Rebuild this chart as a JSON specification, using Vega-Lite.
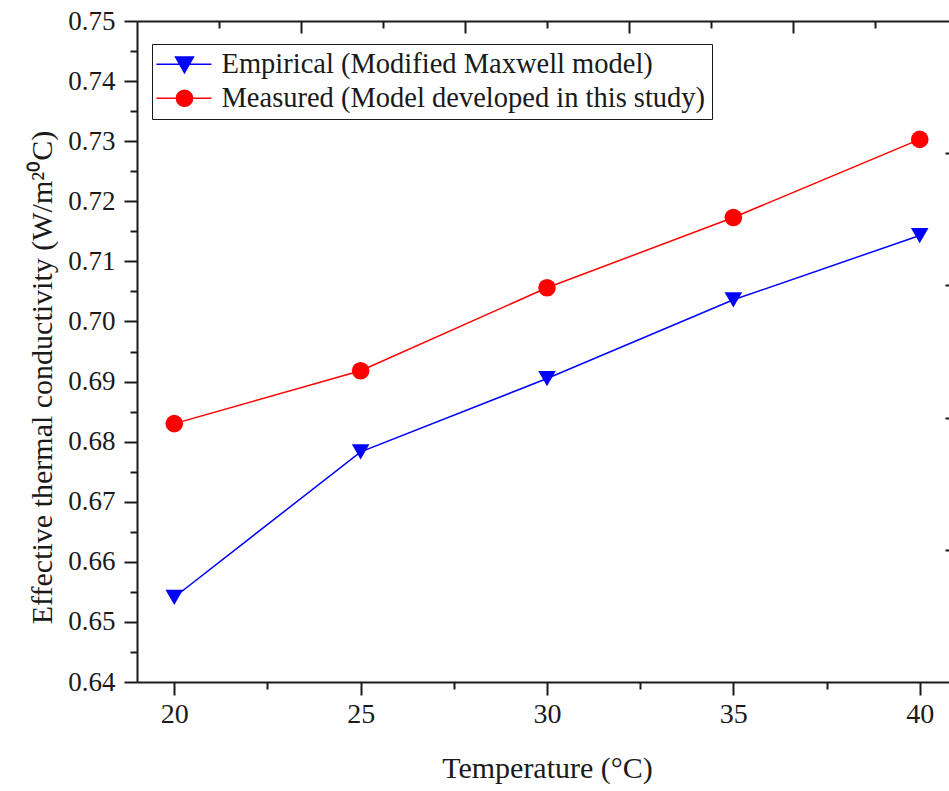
{
  "$schema": "https://vega.github.io/schema/vega-lite/v6.json",
  "width": 812,
  "height": 661,
  "autosize": {"type": "none"},
  "padding": {"left": 137, "top": 21, "right": 0, "bottom": 109},
  "background": "white",
  "config": {
    "view": {"stroke": null},
    "font": "Liberation Serif",
    "style": {"guide-label": {"font": "Liberation Serif"}, "guide-title": {"font": "Liberation Serif"}},
    "axis": {
      "grid": false,
      "domainColor": "#1a1a1a",
      "domainWidth": 2,
      "tickColor": "#1a1a1a",
      "tickWidth": 2,
      "labelFont": "Liberation Serif",
      "titleFont": "Liberation Serif",
      "labelColor": "#1a1a1a",
      "titleColor": "#1a1a1a",
      "titleFontWeight": "normal"
    },
    "legend": {
      "title": null, "orient": "none", "legendX": 15, "legendY": 23, "direction": "vertical",
      "padding": 6, "strokeColor": "#1a1a1a", "labelFont": "Liberation Serif", "labelFontSize": 28.5,
      "labelColor": "#1a1a1a", "labelLimit": 0, "labelOffset": 35, "rowPadding": 5,
      "symbolSize": 289, "symbolOpacity": 1, "symbolStrokeWidth": 1.5
    }
  },
  "data": {
    "values": [
      {"T": 20, "k": 0.6541, "series": "Empirical (Modified Maxwell model)"},
      {"T": 25, "k": 0.6783, "series": "Empirical (Modified Maxwell model)"},
      {"T": 30, "k": 0.6905, "series": "Empirical (Modified Maxwell model)"},
      {"T": 35, "k": 0.7036, "series": "Empirical (Modified Maxwell model)"},
      {"T": 40, "k": 0.7143, "series": "Empirical (Modified Maxwell model)"},
      {"T": 20, "k": 0.6830, "series": "Measured (Model developed in this study)"},
      {"T": 25, "k": 0.6918, "series": "Measured (Model developed in this study)"},
      {"T": 30, "k": 0.7056, "series": "Measured (Model developed in this study)"},
      {"T": 35, "k": 0.7173, "series": "Measured (Model developed in this study)"},
      {"T": 40, "k": 0.7303, "series": "Measured (Model developed in this study)"}
    ]
  },
  "layer": [
    {
      "mark": {"type": "line", "strokeWidth": 1.5},
      "encoding": {
        "x": {
          "field": "T", "type": "quantitative",
          "scale": {"domain": [19, 41], "range": [0, 820], "nice": false, "zero": false},
          "axis": {
            "orient": "bottom", "values": [20, 25, 30, 35, 40], "tickSize": 13,
            "labelFont": "Liberation Serif", "labelFontSize": 28, "labelPadding": 5, "title": "Temperature (°C)",
            "titleFont": "Liberation Serif", "titleFontSize": 30, "titlePadding": 25
          }
        },
        "y": {
          "field": "k", "type": "quantitative",
          "scale": {"domain": [0.64, 0.75], "nice": false, "zero": false},
          "axis": {
            "orient": "left",
            "values": [0.64, 0.65, 0.66, 0.67, 0.68, 0.69, 0.70, 0.71, 0.72, 0.73, 0.74, 0.75],
            "format": ".2f", "tickSize": 13, "labelFont": "Liberation Serif", "labelFontSize": 27, "labelPadding": 9,
            "title": "Effective thermal conductivity (W/m²⁰C)", "titleFont": "Liberation Serif", "titleFontSize": 30, "titlePadding": 10, "titleY": 356
          }
        },
        "color": {
          "field": "series", "type": "nominal",
          "scale": {"domain": ["Empirical (Modified Maxwell model)", "Measured (Model developed in this study)"], "range": ["#0000ff", "#ff0000"]},
          "legend": null
        }
      }
    },
    {
      "mark": {"type": "point", "filled": true, "opacity": 1},
      "encoding": {
        "x": {"field": "T", "type": "quantitative", "axis": null},
        "y": {"field": "k", "type": "quantitative", "axis": null},
        "color": {"field": "series", "type": "nominal", "legend": null},
        "shape": {
          "field": "series", "type": "nominal",
          "scale": {"domain": ["Empirical (Modified Maxwell model)", "Measured (Model developed in this study)"], "range": ["triangle-down", "circle"]},
          "legend": null
        },
        "size": {"value": 310}
      }
    },
    {
      "mark": {"type": "point", "filled": true, "opacity": 0, "strokeWidth": 1.5},
      "encoding": {
        "x": {"field": "T", "type": "quantitative", "axis": null},
        "y": {"field": "k", "type": "quantitative", "axis": null},
        "fill": {
          "field": "series", "type": "nominal",
          "scale": {"domain": ["Empirical (Modified Maxwell model)", "Measured (Model developed in this study)"], "range": ["#0000ff", "#ff0000"]},
          "legend": {
            "symbolFillColor": {"expr": "datum.value === 'Empirical (Modified Maxwell model)' ? '#0000ff' : '#ff0000'"},
            "symbolStrokeColor": {"expr": "datum.value === 'Empirical (Modified Maxwell model)' ? '#0000ff' : '#ff0000'"}
          }
        },
        "stroke": {
          "field": "series", "type": "nominal",
          "scale": {"domain": ["Empirical (Modified Maxwell model)", "Measured (Model developed in this study)"], "range": ["#0000ff", "#ff0000"]},
          "legend": {
            "symbolFillColor": {"expr": "datum.value === 'Empirical (Modified Maxwell model)' ? '#0000ff' : '#ff0000'"},
            "symbolStrokeColor": {"expr": "datum.value === 'Empirical (Modified Maxwell model)' ? '#0000ff' : '#ff0000'"}
          }
        },
        "shape": {
          "field": "series", "type": "nominal",
          "scale": {
            "domain": ["Empirical (Modified Maxwell model)", "Measured (Model developed in this study)"],
            "range": ["M-1.86,0H4.61M0.39,-0.85L2.49,-0.85L1.44,1Z", "M-1.86,0H4.61M2.39,0A0.95,0.95,0,1,1,0.49,0A0.95,0.95,0,1,1,2.39,0Z"]
          },
          "legend": {
            "symbolFillColor": {"expr": "datum.value === 'Empirical (Modified Maxwell model)' ? '#0000ff' : '#ff0000'"},
            "symbolStrokeColor": {"expr": "datum.value === 'Empirical (Modified Maxwell model)' ? '#0000ff' : '#ff0000'"}
          }
        }
      }
    },
    {
      "mark": {"type": "point", "opacity": 0},
      "encoding": {
        "x": {
          "field": "T", "type": "quantitative",
          "axis": {"orient": "bottom", "values": [22.5, 27.5, 32.5, 37.5], "tickSize": 7, "labels": false, "domain": false, "title": null}
        },
        "y": {
          "field": "k", "type": "quantitative",
          "axis": {"orient": "left", "values": [0.645, 0.655, 0.665, 0.675, 0.685, 0.695, 0.705, 0.715, 0.725, 0.735, 0.745], "tickSize": 7, "labels": false, "domain": false, "title": null}
        }
      }
    },
    {
      "mark": {"type": "point", "opacity": 0},
      "encoding": {
        "x": {
          "field": "T", "type": "quantitative",
          "axis": {"orient": "top", "values": [23.4, 27.8, 32.2, 36.6], "tickSize": -12, "labels": false, "domain": true, "title": null}
        },
        "y": {
          "field": "k", "type": "quantitative",
          "axis": {"orient": "right", "offset": 8, "values": [0.662, 0.684, 0.706, 0.728], "tickSize": -12, "labels": false, "domain": true, "title": null}
        }
      }
    },
    {
      "mark": {"type": "point", "opacity": 0},
      "encoding": {
        "x": {
          "field": "T", "type": "quantitative",
          "axis": {"orient": "top", "values": [21.2, 25.6, 30, 34.4, 38.8], "tickSize": -7, "labels": false, "domain": false, "title": null}
        },
        "y": {
          "field": "k", "type": "quantitative",
          "axis": {"orient": "right", "offset": 8, "values": [0.651, 0.673, 0.695, 0.717, 0.739], "tickSize": -7, "labels": false, "domain": false, "title": null}
        }
      }
    }
  ],
  "resolve": {
    "scale": {"shape": "independent"},
    "axis": {"x": "independent", "y": "independent"}
  }
}
